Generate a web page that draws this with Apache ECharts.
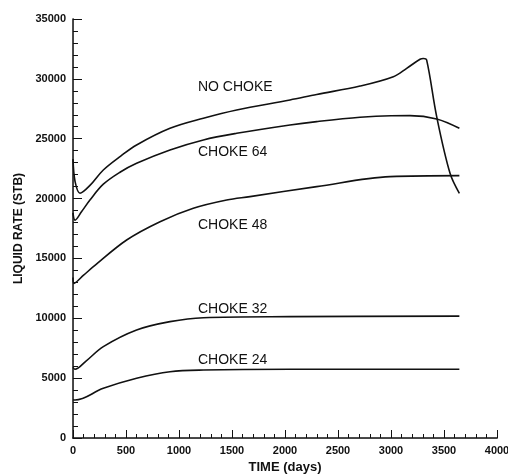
<!DOCTYPE html>
<html>
<head>
<meta charset="utf-8">
<script src="https://cdn.jsdelivr.net/npm/echarts@6/dist/echarts.min.js"></script>
<style>
  html, body { margin: 0; padding: 0; background: #fff; }
  #chart { width: 508px; height: 474px; }
</style>
</head>
<body>
<div id="chart"></div>
<script>
// 数据
var noChokeDays = [0, 20, 66, 160, 286, 450, 600, 915, 1230, 1544, 2047, 2299, 2708, 3022, 3148, 3274, 3305, 3336, 3431, 3557, 3645];
var noChokeRate = [23300, 21400, 20450, 21100, 22390, 23550, 24480, 25870, 26710, 27400, 28240, 28700, 29400, 30180, 30880, 31640, 31700, 31580, 26840, 22110, 20440];

var choke64Days = [0, 19, 80, 160, 286, 443, 600, 915, 1230, 1544, 2047, 2299, 2708, 3000, 3179, 3431, 3645];
var choke64Rate = [18800, 18200, 18900, 19880, 21200, 22200, 22950, 24060, 24900, 25450, 26150, 26430, 26790, 26920, 26930, 26650, 25870];

var choke48Days = [0, 9, 100, 192, 506, 821, 1135, 1450, 1670, 2299, 2991, 3645];
var choke48Rate = [13400, 12920, 13600, 14310, 16540, 18070, 19190, 19880, 20160, 21000, 21830, 21920];

var choke32Days = [0, 19, 120, 286, 600, 915, 1230, 2047, 3645];
var choke32Rate = [5900, 5740, 6400, 7630, 9020, 9720, 10050, 10140, 10180];

var choke24Days = [0, 19, 286, 600, 915, 1230, 2047, 3645];
var choke24Rate = [3200, 3170, 4150, 4990, 5540, 5680, 5740, 5740];

// 曲线标注
var labelNames = ['NO CHOKE', 'CHOKE 64', 'CHOKE 48', 'CHOKE 32', 'CHOKE 24'];
var labelDay = 1179;
var labelRate = [29280, 23850, 17790, 10730, 6520];

var xTicks = [0, 500, 1000, 1500, 2000, 2500, 3000, 3500, 4000];
var yTicks = [0, 5000, 10000, 15000, 20000, 25000, 30000, 35000];

function pairs(xs, ys) {
  return xs.map(function (x, i) { return [x, ys[i]]; });
}

var font = '"Liberation Sans", Arial, sans-serif';

function lineSeries(name, xs, ys, extra) {
  var s = {
    name: name,
    type: 'line',
    data: pairs(xs, ys),
    smooth: 0.35,
    showSymbol: false,
    symbol: 'none',
    lineStyle: { color: '#111', width: 1.6 },
    xAxisIndex: 0,
    yAxisIndex: 0
  };
  if (extra) s.markPoint = extra;
  return s;
}

// 标注用 markPoint 放在数据坐标上
var marks = {
  symbol: 'circle',
  symbolSize: 0,
  silent: true,
  label: {
    show: true,
    position: 'right',
    distance: 0,
    color: '#111',
    fontFamily: font,
    fontSize: 14,
    formatter: function (p) { return p.name; }
  },
  data: labelNames.map(function (n, i) {
    return { name: n, coord: [labelDay, labelRate[i]] };
  })
};

var chart = echarts.init(document.getElementById('chart'));

var option = {
  backgroundColor: '#fff',
  animation: false,
  grid: { left: 73, right: 11, top: 19, bottom: 36, containLabel: false, outerBoundsMode: 'none' },
  xAxis: [{
    type: 'value',
    min: xTicks[0],
    max: xTicks[xTicks.length - 1],
    interval: 500,
    name: 'TIME (days)',
    nameLocation: 'middle',
    nameGap: 23,
    nameTextStyle: { color: '#111', fontFamily: font, fontSize: 13, fontWeight: 'bold' },
    axisLine: { onZero: false, lineStyle: { color: '#111', width: 1.5 } },
    axisTick: { inside: true, length: 8, lineStyle: { color: '#111' } },
    minorTick: { show: true, splitNumber: 5, length: 4, lineStyle: { color: '#111' } },
    axisLabel: { color: '#111', fontFamily: font, fontSize: 11, fontWeight: 'bold', margin: 7,
      formatter: function (v) { return String(v); } },
    splitLine: { show: false }
  }, {
    type: 'value',
    position: 'top',
    min: 0, max: 4000,
    axisLine: { show: true, lineStyle: { color: '#444', width: 1 } },
    axisTick: { show: false },
    axisLabel: { show: false },
    splitLine: { show: false }
  }],
  yAxis: [{
    type: 'value',
    min: yTicks[0],
    max: yTicks[yTicks.length - 1],
    interval: 5000,
    name: 'LIQUID RATE (STB)',
    nameLocation: 'middle',
    nameGap: 37,
    nameTextStyle: { color: '#111', fontFamily: font, fontSize: 12, fontWeight: 'bold' },
    axisLine: { show: true, onZero: false, lineStyle: { color: '#111', width: 1.5 } },
    axisTick: { inside: true, length: 9, lineStyle: { color: '#111' } },
    minorTick: { show: true, splitNumber: 5, length: 5, lineStyle: { color: '#111' } },
    axisLabel: { color: '#111', fontFamily: font, fontSize: 11, fontWeight: 'bold', margin: 7,
      formatter: function (v) { return String(v); } },
    splitLine: { show: false }
  }, {
    type: 'value',
    position: 'right',
    min: 0, max: 35000,
    axisLine: { show: true, lineStyle: { color: '#444', width: 1 } },
    axisTick: { show: false },
    axisLabel: { show: false },
    splitLine: { show: false }
  }],
  series: [
    lineSeries('NO CHOKE', noChokeDays, noChokeRate, marks),
    lineSeries('CHOKE 64', choke64Days, choke64Rate),
    lineSeries('CHOKE 48', choke48Days, choke48Rate),
    lineSeries('CHOKE 32', choke32Days, choke32Rate),
    lineSeries('CHOKE 24', choke24Days, choke24Rate)
  ]
};

chart.setOption(option);
</script>
</body>
</html>
